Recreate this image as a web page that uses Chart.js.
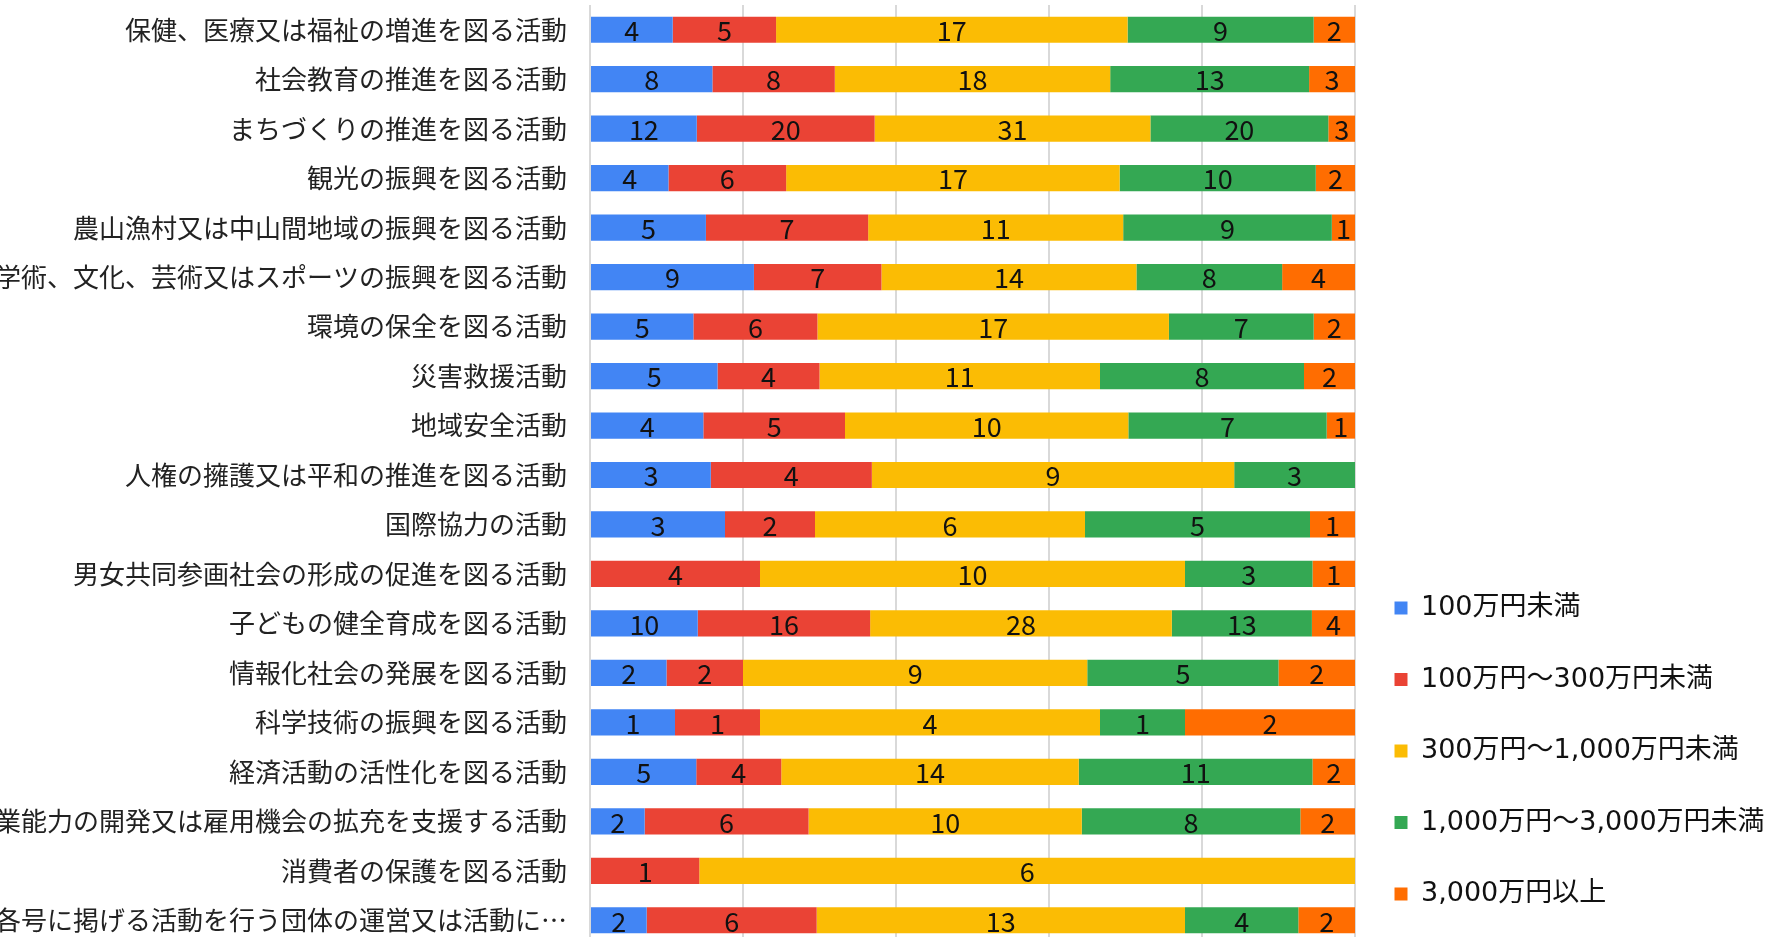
<!DOCTYPE html>
<html>
<head>
<meta charset="utf-8">
<script src="https://cdn.jsdelivr.net/npm/chart.js@4/dist/chart.umd.min.js"></script>
<style>
html,body{margin:0;padding:0;overflow:hidden;background:#fff}
#wrap{width:1776px;height:952px}
</style>
</head>
<body>
<div id="wrap"><canvas id="chart"></canvas></div>
<script>

/* DATA */

const categories=[
"保健、医療又は福祉の増進を図る活動",
"社会教育の推進を図る活動",
"まちづくりの推進を図る活動",
"観光の振興を図る活動",
"農山漁村又は中山間地域の振興を図る活動",
"学術、文化、芸術又はスポーツの振興を図る活動",
"環境の保全を図る活動",
"災害救援活動",
"地域安全活動",
"人権の擁護又は平和の推進を図る活動",
"国際協力の活動",
"男女共同参画社会の形成の促進を図る活動",
"子どもの健全育成を図る活動",
"情報化社会の発展を図る活動",
"科学技術の振興を図る活動",
"経済活動の活性化を図る活動",
"職業能力の開発又は雇用機会の拡充を支援する活動",
"消費者の保護を図る活動",
"前各号に掲げる活動を行う団体の運営又は活動に…"
]

const seriesNames=[
"100万円未満",
"100万円～300万円未満",
"300万円～1,000万円未満",
"1,000万円～3,000万円未満",
"3,000万円以上"
]

const under100=[4,8,12,4,5,9,5,5,4,3,3,0,10,2,1,5,2,0,2]
const from100to300=[5,8,20,6,7,7,6,4,5,4,2,4,16,2,1,4,6,1,6]
const from300to1000=[17,18,31,17,11,14,17,11,10,9,6,10,28,9,4,14,10,6,13]
const from1000to3000=[9,13,20,10,9,8,7,8,7,3,5,3,13,5,1,11,8,0,4]
const over3000=[2,3,3,2,1,4,2,2,1,0,1,1,4,2,2,2,2,0,2]

const colors=["#4285F4","#EA4335","#FBBC04","#34A853","#FF6D01"]

const counts=[under100,from100to300,from300to1000,from1000to3000,over3000]

/* row totals for 100% stacking */

const totals=categories.map((c,i)=>counts.reduce((s,arr)=>s+arr[i],0))

const datasets=counts.map((arr,k)=>({
label:seriesNames[k],
data:arr.map((v,i)=>v/totals[i]*100),
counts:arr,
backgroundColor:colors[k],
borderWidth:0,
barPercentage:0.53,
categoryPercentage:1
}))


/* VALUE LABELS */

const valueLabels={
id:"valueLabels",
afterDatasetsDraw(chart){
const ctx=chart.ctx
ctx.save()
ctx.font="27px 'Noto Sans CJK JP'"
ctx.fillStyle="#111"
ctx.textAlign="center"
ctx.textBaseline="middle"
chart.data.datasets.forEach((ds,k)=>{
const meta=chart.getDatasetMeta(k)
meta.data.forEach((bar,i)=>{
const v=ds.counts[i]
if(!v) return
ctx.fillText(String(v),(bar.x+bar.base)/2,bar.y+1)
})
})
ctx.restore()
}
}

/* legend keeps a fixed width so the plot ends where it should */

const legendWidth={
id:"legendWidth",
afterInit(chart){
const lg=chart.legend
const fit=lg.fit.bind(lg)
lg.fit=function(){fit();this.width=421}
const draw=lg.draw.bind(lg)
lg.draw=function(){
const ctx=chart.ctx
ctx.save()
ctx.translate(-5,0)
draw()
ctx.restore()
}
}
}


new Chart(document.getElementById("chart"),{

type:"bar",

data:{
labels:categories,
datasets:datasets
},

plugins:[valueLabels,legendWidth],

options:{
indexAxis:"y",
responsive:true,
maintainAspectRatio:false,
animation:false,
layout:{padding:{top:5,bottom:0,left:0,right:0}},

plugins:{
tooltip:{enabled:false},
legend:{
position:"right",
align:"end",
labels:{
boxWidth:13,
boxHeight:13,
padding:44.5,
color:"#111",
font:{family:"'DejaVu Sans','Noto Sans CJK JP'",size:27}
}
}
},

scales:{
x:{
stacked:true,
min:0,
max:100,
ticks:{display:false,stepSize:20},
grid:{color:"#d9d9d9",lineWidth:2,drawTicks:false},
border:{display:false},
afterFit(scale){scale.height=7;scale.paddingLeft=0;scale.paddingRight=0}
},
y:{
stacked:true,
grid:{display:false},
border:{display:false},
ticks:{
autoSkip:false,
padding:15,
color:"#222",
font:{family:"'Noto Sans CJK JP'",size:26}
},
afterFit(scale){scale.width=590;scale.paddingTop=0;scale.paddingBottom=0}
}
}

}

})

</script>
</body>
</html>
